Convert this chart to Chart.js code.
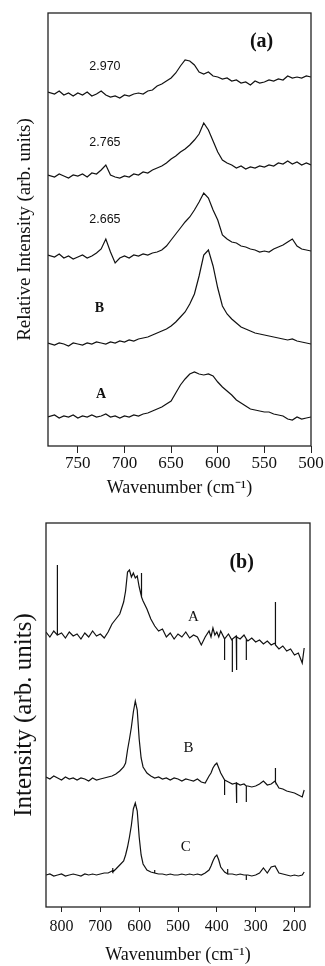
<!DOCTYPE html>
<html>
<head>
<meta charset="utf-8">
<script src="https://cdn.jsdelivr.net/npm/chart.js@4.4.1/dist/chart.umd.min.js"></script>
<style>
  html, body { margin: 0; padding: 0; background: #fff; }
  body { width: 325px; height: 966px; position: relative; overflow: hidden; }
  canvas { position: absolute; left: 0; }
  #chart-a { top: 0; }
  #chart-b { top: 500px; }
</style>
</head>
<body>
<canvas id="chart-a" width="325" height="500"></canvas>
<canvas id="chart-b" width="325" height="466"></canvas>
<script>
// Panel (a): wavenumbers (cm-1) and relative intensity of each trace
const wnA = [782, 775, 770, 765, 760, 755, 750, 745, 740, 735, 730, 725, 720, 715, 710, 705, 700, 695, 690, 685,
             680, 675, 670, 665, 660, 655, 650, 645, 640, 635, 630, 625, 620, 615, 610, 605, 600, 595, 590, 585,
             580, 575, 570, 565, 560, 555, 550, 545, 540, 535, 530, 525, 520, 515, 510, 505, 500];
const s2970 = [354, 352, 355, 351, 353, 350, 353, 351, 354, 350, 352, 355, 351, 349, 350, 348, 351, 350, 352, 353,
               352, 355, 356, 360, 362, 365, 368, 373, 380, 386, 385, 381, 374, 372, 374, 370, 369, 367, 368, 365,
               366, 363, 364, 361, 365, 363, 364, 366, 365, 367, 366, 370, 368, 369, 368, 370, 369];
const s2765 = [271, 269, 272, 270, 268, 271, 270, 272, 269, 273, 272, 276, 281, 271, 269, 268, 270, 269, 272, 271,
               274, 273, 276, 278, 280, 283, 287, 290, 294, 297, 301, 306, 312, 323, 316, 305, 294, 286, 283, 281,
               278, 280, 277, 279, 278, 280, 279, 281, 280, 283, 282, 285, 282, 284, 281, 283, 281];
const s2665 = [191, 189, 192, 188, 190, 187, 189, 191, 188, 190, 193, 197, 207, 194, 183, 188, 190, 188, 191, 190,
               192, 191, 193, 194, 196, 200, 206, 212, 218, 224, 229, 236, 244, 253, 248, 236, 226, 211, 207, 204,
               203, 200, 199, 197, 196, 194, 195, 194, 197, 199, 201, 204, 207, 200, 197, 196, 195];
const sB = [103, 101, 103, 102, 100, 103, 102, 101, 103, 102, 104, 103, 102, 104, 103, 105, 104, 106, 105, 107,
            108, 109, 111, 113, 115, 117, 120, 124, 129, 134, 142, 152, 170, 191, 196, 180, 158, 140, 132, 127,
            123, 119, 117, 115, 113, 112, 111, 110, 109, 108, 107, 106, 107, 105, 104, 103, 102];
const sA = [29, 31, 28, 30, 29, 31, 28, 30, 29, 31, 29, 30, 32, 29, 30, 28, 30, 29, 31, 30,
            32, 33, 35, 37, 39, 42, 45, 53, 61, 67, 72, 74, 72, 71, 72, 70, 64, 59, 55, 51,
            46, 43, 40, 37, 36, 35, 34, 34, 32, 31, 30, 27, 26, 29, 27, 28, 29];
const ticksA = [750, 700, 650, 600, 550, 500];

// Panel (b)
const wnB = [840, 830, 820, 810, 800, 790, 780, 770, 760, 750, 740, 730, 720, 710, 700, 690, 680, 670, 660, 650,
             640, 635, 630, 625, 620, 615, 610, 605, 600, 595, 590, 580, 570, 560, 550, 540, 530, 520, 510, 500,
             490, 480, 470, 460, 450, 440, 430, 420, 415, 410, 405, 400, 395, 390, 380, 370, 360, 350, 340, 330,
             320, 310, 300, 290, 280, 270, 260, 250, 240, 230, 220, 210, 200, 190, 180, 175];
const bA = [275, 270, 276, 272, 274, 269, 275, 271, 273, 268, 274, 270, 276, 271, 273, 269, 275, 283, 288, 293,
            305, 316, 335, 337, 330, 334, 329, 331, 320, 312, 306, 298, 288, 281, 276, 278, 270, 274, 268, 273,
            270, 275, 269, 272, 270, 262, 270, 276, 270, 279, 272, 275, 270, 276, 268, 273, 266, 271, 268, 272,
            266, 269, 265, 267, 263, 266, 262, 264, 258, 261, 256, 258, 252, 254, 244, 259];
const bB = [130, 128, 131, 129, 127, 130, 128, 129, 127, 129, 128, 126, 129, 127, 128, 129, 130, 131, 133, 136,
            140, 144, 157, 168, 180, 195, 206, 197, 168, 149, 140, 134, 131, 129, 130, 128, 129, 127, 129, 128,
            126, 128, 127, 126, 128, 125, 124, 131, 134, 139, 142, 144, 139, 134, 127, 125, 123, 124, 122, 123,
            121, 120, 121, 123, 126, 122, 123, 126, 119, 118, 116, 115, 114, 112, 110, 117];
const bC = [32, 33, 31, 32, 33, 31, 32, 33, 32, 31, 33, 32, 33, 32, 33, 34, 34, 36, 38, 42,
            46, 52, 60, 70, 82, 98, 104, 96, 70, 52, 43, 37, 35, 34, 33, 33, 32, 33, 32, 32,
            33, 32, 33, 32, 33, 32, 34, 37, 41, 46, 50, 52, 47, 40, 35, 33, 33, 32, 33, 32,
            32, 31, 32, 34, 39, 34, 40, 41, 34, 33, 32, 31, 32, 31, 32, 35];
// sharp spikes: [wavenumber, base, tip]
const spikesA = [[811, 272, 342], [594, 310, 334], [380, 268, 247], [360, 268, 235], [349, 270, 237], [324, 268, 247], [249, 262, 305]];
const spikesB = [[380, 127, 112], [349, 124, 104], [324, 121, 105], [249, 125, 139]];
const spikesC = [[668, 35, 39], [560, 34, 37], [372, 33, 38], [324, 32, 27]];
const ticksB = [800, 700, 600, 500, 400, 300, 200];

// text labels inside the frames
const notesA = [
    {text: '(a)', wn: 553, h: 404, font: 'bold 20px "Liberation Serif"'},
    {text: '2.970', wn: 721, h: 379, font: '12.5px "Liberation Sans"'},
    {text: '2.765', wn: 721, h: 303, font: '12.5px "Liberation Sans"'},
    {text: '2.665', wn: 721, h: 226, font: '12.5px "Liberation Sans"'},
    {text: 'B', wn: 727, h: 138, font: 'bold 14px "Liberation Serif"'},
    {text: 'A', wn: 725, h: 52, font: 'bold 14px "Liberation Serif"'}
];
const notesB = [
    {text: '(b)', wn: 336, h: 344, font: 'bold 20px "Liberation Serif"'},
    {text: 'A', wn: 460, h: 290, font: '15px "Liberation Serif"'},
    {text: 'B', wn: 473, h: 159, font: '15px "Liberation Serif"'},
    {text: 'C', wn: 480, h: 60, font: '15px "Liberation Serif"'}
];

Chart.defaults.font.family = '"Liberation Serif", "Times New Roman", serif';
Chart.defaults.color = '#111';

const framePlugin = {
    id: 'frame',
    afterDraw(chart, args, opts) {
        const {ctx, chartArea: a, scales} = chart;
        ctx.save();
        ctx.strokeStyle = '#222';
        ctx.lineWidth = 1.3;
        ctx.strokeRect(a.left, a.top, a.right - a.left, a.bottom - a.top);
        ctx.fillStyle = '#111';
        ctx.textAlign = 'center';
        ctx.textBaseline = 'middle';
        (opts.notes || []).forEach(n => {
            ctx.font = n.font;
            ctx.fillText(n.text, scales.x.getPixelForValue(n.wn), scales.y.getPixelForValue(n.h));
        });
        ctx.restore();
    }
};

function trace(wn, vals, spikes) {
    const pts = wn.map((w, i) => ({x: w, y: vals[i]}));
    (spikes || []).forEach(s => {
        pts.push({x: s[0], y: s[1]}, {x: s[0], y: s[2]}, {x: s[0], y: s[1]});
    });
    return pts.sort((p, q) => q.x - p.x);
}

function line(data) {
    return {data: data, borderColor: '#111', borderWidth: 1.2, pointRadius: 0, tension: 0, fill: false};
}

function makePanel(id, opt) {
    const ctx = document.getElementById(id).getContext('2d');
    return new Chart(ctx, {
        type: 'line',
        data: {datasets: opt.datasets},
        options: {
            responsive: false,
            animation: false,
            devicePixelRatio: 1,
            layout: {padding: opt.padding},
            plugins: {
                legend: {display: false},
                tooltip: {enabled: false},
                frame: {notes: opt.notes}
            },
            scales: {
                x: {
                    type: 'linear',
                    min: opt.xMin,
                    max: opt.xMax,
                    reverse: true,
                    afterBuildTicks: s => { s.ticks = opt.ticks.map(v => ({value: v})); },
                    afterFit: s => { s.height = opt.xHeight; },
                    border: {display: false},
                    grid: {drawOnChartArea: false, drawTicks: true, tickLength: opt.tickLength, color: '#222'},
                    ticks: {font: {size: opt.tickSize}, padding: opt.tickPad, maxRotation: 0, autoSkip: false, color: '#111'},
                    title: {display: true, text: 'Wavenumber (cm⁻¹)', font: {size: 18}, padding: {top: 0, bottom: opt.xTitlePad}}
                },
                y: {
                    type: 'linear',
                    min: 0,
                    max: opt.yMax,
                    afterFit: s => { s.width = opt.yWidth; },
                    border: {display: false},
                    grid: {display: false},
                    ticks: {display: false},
                    title: {display: true, text: opt.yTitle, font: {size: opt.yTitleSize}, padding: {top: opt.yTitlePad, bottom: 0}}
                }
            }
        },
        plugins: [framePlugin]
    });
}

makePanel('chart-a', {
    datasets: [s2970, s2765, s2665, sB, sA].map(v => line(trace(wnA, v))),
    notes: notesA,
    padding: {left: 0, top: 13, right: 14, bottom: 0},
    xMin: 500, xMax: 782, ticks: ticksA,
    xHeight: 54, tickLength: 7, tickSize: 17, tickPad: 0, xTitlePad: 1,
    yMax: 433, yWidth: 48, yTitle: 'Relative Intensity (arb. units)', yTitleSize: 19, yTitlePad: 14
});

makePanel('chart-b', {
    datasets: [line(trace(wnB, bA, spikesA)), line(trace(wnB, bB, spikesB)), line(trace(wnB, bC, spikesC))],
    notes: notesB,
    padding: {left: 0, top: 23, right: 15, bottom: 0},
    xMin: 160, xMax: 840, ticks: ticksB,
    xHeight: 59, tickLength: 5, tickSize: 16, tickPad: 5, xTitlePad: 0,
    yMax: 384, yWidth: 46, yTitle: 'Intensity (arb. units)', yTitleSize: 25, yTitlePad: 9
});
</script>
</body>
</html>
